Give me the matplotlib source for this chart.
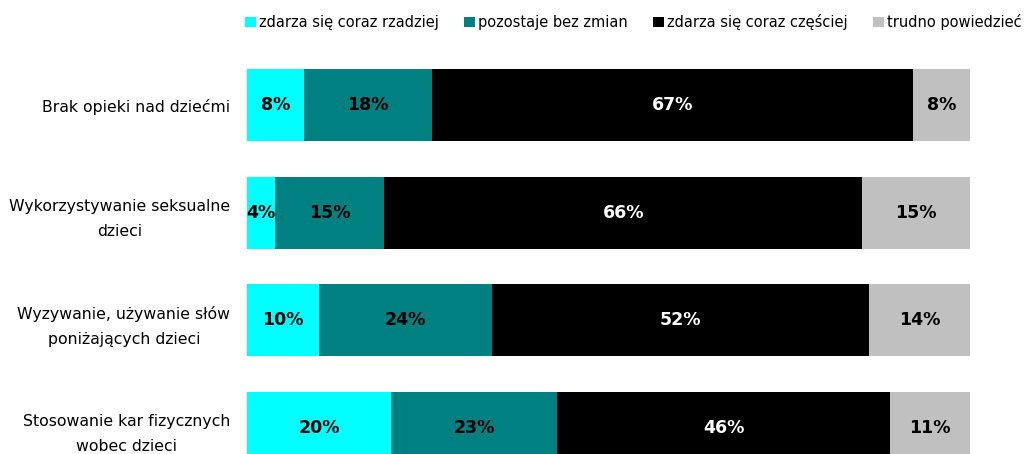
import matplotlib.pyplot as plt
from matplotlib.transforms import ScaledTranslation

categories = ["Brak opieki nad dziećmi",
              "Wykorzystywanie seksualne\ndzieci",
              "Wyzywanie, używanie słów\nponiżających dzieci",
              "Stosowanie kar fizycznych\nwobec dzieci"]
series = ["zdarza się coraz rzadziej", "pozostaje bez zmian",
          "zdarza się coraz częściej", "trudno powiedzieć"]
rzadziej = [7.9, 3.9, 10.0, 19.9]
bez_zmian = [17.7, 15.1, 23.9, 23.0]
czesciej = [66.5, 66.1, 52.1, 46.1]
trudno = [7.9, 14.9, 14.0, 11.0]
labels = [[8, 4, 10, 20], [18, 15, 24, 23], [67, 66, 52, 46], [8, 15, 14, 11]]

colors = ["#00FFFF", "#008080", "#000000", "#C0C0C0"]
text_colors = ["black", "black", "white", "black"]

fig = plt.figure(figsize=(10.34, 4.54), dpi=100)
ax = fig.add_axes([247/1034, 0, 723/1034, (454-51.25)/454])

ypos = list(range(len(categories)))
left = [0]*len(categories)
for i, vals in enumerate([rzadziej, bez_zmian, czesciej, trudno]):
    bars = ax.barh(ypos, vals, left=left, height=0.67, color=colors[i], label=series[i])
    for j, b in enumerate(bars):
        ax.text(left[j] + vals[j]/2, ypos[j], f"{labels[i][j]}%", ha='center', va='center',
                color=text_colors[i], fontsize=12.5, fontweight='bold')
    left = [l + v for l, v in zip(left, vals)]

ax.set_xlim(0, 100)
ax.set_ylim(3.246, -0.5)
ax.set_yticks(ypos)
ax.set_yticklabels(categories, fontsize=11.3)
shift = ScaledTranslation(0, 3/100, fig.dpi_scale_trans)
for t in ax.get_yticklabels():
    t.set_multialignment('center')
    t.set_linespacing(1.8)
    t.set_transform(t.get_transform() + shift)
ax.tick_params(axis='y', length=0, pad=12)
ax.set_xticks([])
for s in ax.spines.values():
    s.set_visible(False)

fig.legend(loc='upper left', bbox_to_anchor=(245/1034, 1 - 14/454), ncol=4, frameon=False,
           fontsize=10.5, handlelength=0.75, handleheight=0.75, handletextpad=0.2,
           columnspacing=1.75, borderaxespad=0, borderpad=0)

fig.savefig("out.png", dpi=100)
